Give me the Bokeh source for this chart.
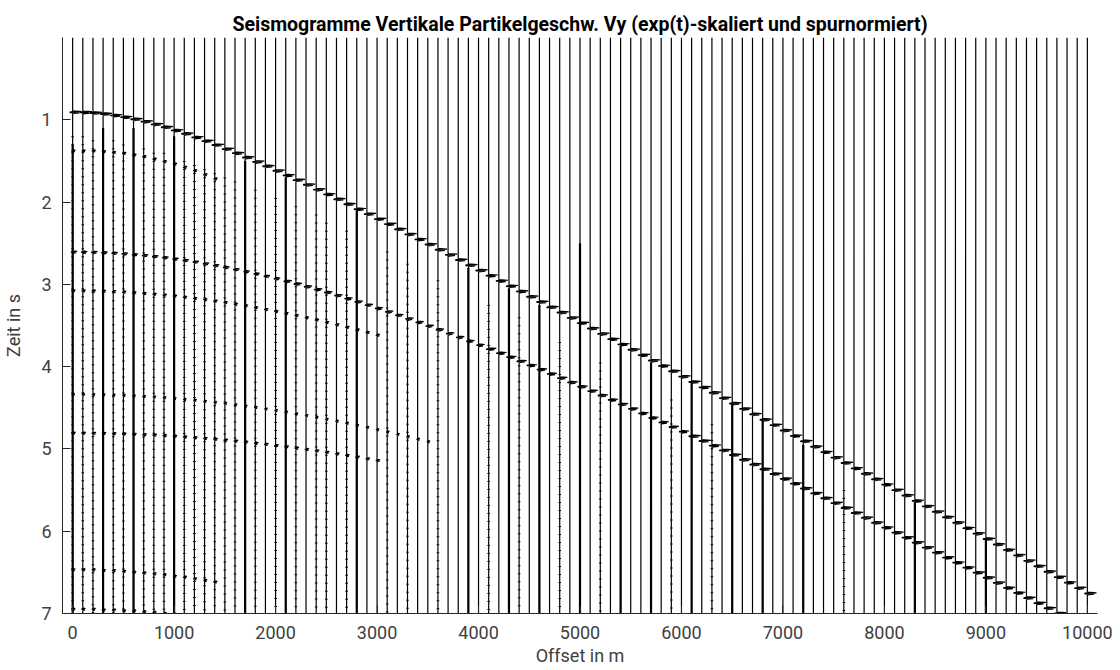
from bokeh.plotting import figure
from bokeh.models import Range1d, FixedTicker
from bokeh.embed import file_html
from bokeh.resources import INLINE

# ---------------- data ----------------
trace_offsets = [0, 100, 200, 300, 400, 500, 600, 700, 800, 900,
                 1000, 1100, 1200, 1300, 1400, 1500, 1600, 1700, 1800, 1900,
                 2000, 2100, 2200, 2300, 2400, 2500, 2600, 2700, 2800, 2900,
                 3000, 3100, 3200, 3300, 3400, 3500, 3600, 3700, 3800, 3900,
                 4000, 4100, 4200, 4300, 4400, 4500, 4600, 4700, 4800, 4900,
                 5000, 5100, 5200, 5300, 5400, 5500, 5600, 5700, 5800, 5900,
                 6000, 6100, 6200, 6300, 6400, 6500, 6600, 6700, 6800, 6900,
                 7000, 7100, 7200, 7300, 7400, 7500, 7600, 7700, 7800, 7900,
                 8000, 8100, 8200, 8300, 8400, 8500, 8600, 8700, 8800, 8900,
                 9000, 9100, 9200, 9300, 9400, 9500, 9600, 9700, 9800, 9900,
                 10000]

# first arrival (strong event), one time per trace [s]
e1_times = [0.900, 0.902, 0.910, 0.922, 0.939, 0.960, 0.985, 1.014, 1.047, 1.083,
            1.121, 1.162, 1.206, 1.251, 1.299, 1.348, 1.398, 1.450, 1.503, 1.557,
            1.612, 1.668, 1.725, 1.782, 1.840, 1.899, 1.958, 2.018, 2.078, 2.138,
            2.199, 2.260, 2.322, 2.384, 2.446, 2.508, 2.571, 2.633, 2.696, 2.760,
            2.823, 2.886, 2.950, 3.014, 3.078, 3.142, 3.206, 3.270, 3.334, 3.399,
            3.463, 3.528, 3.593, 3.658, 3.722, 3.787, 3.852, 3.918, 3.983, 4.048,
            4.113, 4.178, 4.244, 4.309, 4.374, 4.440, 4.505, 4.571, 4.637, 4.702,
            4.768, 4.834, 4.899, 4.965, 5.031, 5.097, 5.163, 5.229, 5.294, 5.360,
            5.426, 5.492, 5.558, 5.624, 5.690, 5.756, 5.822, 5.889, 5.955, 6.021,
            6.087, 6.153, 6.219, 6.285, 6.352, 6.418, 6.484, 6.550, 6.617, 6.683,
            6.749]
e1_amps = [90] * 101

# second event (starts at 2.6 s), traces 0 .. 9700 m
e2_times = [2.600, 2.601, 2.603, 2.608, 2.614, 2.621, 2.631, 2.642, 2.654, 2.669,
            2.685, 2.702, 2.721, 2.742, 2.764, 2.787, 2.812, 2.838, 2.865, 2.894,
            2.924, 2.955, 2.988, 3.021, 3.056, 3.091, 3.128, 3.166, 3.204, 3.244,
            3.284, 3.326, 3.368, 3.411, 3.454, 3.499, 3.544, 3.590, 3.636, 3.683,
            3.731, 3.779, 3.828, 3.877, 3.927, 3.977, 4.028, 4.080, 4.131, 4.184,
            4.236, 4.289, 4.343, 4.396, 4.450, 4.505, 4.560, 4.615, 4.670, 4.726,
            4.782, 4.838, 4.895, 4.952, 5.009, 5.066, 5.123, 5.181, 5.239, 5.297,
            5.356, 5.414, 5.473, 5.532, 5.591, 5.650, 5.710, 5.770, 5.829, 5.889,
            5.949, 6.010, 6.070, 6.130, 6.191, 6.252, 6.313, 6.374, 6.435, 6.496,
            6.558, 6.619, 6.681, 6.742, 6.804, 6.866, 6.928, 6.990]
e2_amps = [45] * 21 + [60] * 20 + [75] * 20 + [90] * 37

# weaker events at near offsets
e3_times = [1.37, 1.37, 1.37, 1.38, 1.39, 1.40, 1.42, 1.44, 1.47, 1.50,
            1.53, 1.57, 1.61, 1.66, 1.71]
e3_amps = [28] * 15
e4_times = [3.070, 3.071, 3.073, 3.076, 3.080, 3.086, 3.093, 3.102, 3.111, 3.122,
            3.134, 3.148, 3.163, 3.178, 3.195, 3.213, 3.233, 3.253, 3.275, 3.298,
            3.321, 3.345, 3.371, 3.397, 3.425, 3.454, 3.483, 3.514, 3.545, 3.577,
            3.610]
e4_amps = [28] * 31
e5_times = [4.330, 4.330, 4.332, 4.334, 4.338, 4.342, 4.348, 4.354, 4.362, 4.370,
            4.380, 4.390, 4.401, 4.414, 4.427, 4.441, 4.456, 4.472, 4.489, 4.507,
            4.526, 4.545, 4.566, 4.587, 4.609, 4.632, 4.655, 4.680, 4.706, 4.731,
            4.759, 4.786, 4.815, 4.844, 4.874, 4.904]
e5_amps = [22] * 36
e6_times = [4.800, 4.800, 4.802, 4.803, 4.806, 4.810, 4.814, 4.819, 4.824, 4.831,
            4.838, 4.846, 4.855, 4.864, 4.874, 4.885, 4.897, 4.909, 4.922, 4.936,
            4.951, 4.966, 4.982, 4.998, 5.015, 5.033, 5.052, 5.071, 5.091, 5.112,
            5.133]
e6_amps = [30] * 31
e7_times = [6.46, 6.46, 6.46, 6.47, 6.47, 6.48, 6.49, 6.50, 6.51, 6.52,
            6.54, 6.55, 6.57, 6.59, 6.61]
e7_amps = [26] * 15
e8_times = [6.94, 6.94, 6.94, 6.95, 6.95, 6.96, 6.96, 6.97, 6.98, 6.99, 7.00]
e8_amps = [26] * 11

# wavelet shape of one arrival (time offset in s, relative amplitude)
wavelet_dt = [-0.008, 0.0, 0.004, 0.012, 0.016, 0.026]
wavelet_amp = [0.0, 1.0, -0.25, -0.3, 0.75, 0.0]

# traces with strong high-frequency noise (offset, from time, to time)
noisy_offsets = [0, 300, 600, 1000, 1700, 2100, 2800, 3900, 4300, 4600,
                 5000, 5400, 5700, 6100, 6500, 6800, 7200, 8300, 9000]
noisy_start = [1.30, 1.10, 1.10, 1.20, 1.50, 1.70, 2.10, 2.80, 3.05, 3.25,
               2.50, 3.75, 3.95, 4.20, 4.45, 4.65, 4.95, 5.65, 6.10]
noisy_end = [7.0] * 19

# traces with scattered small noise spikes (offset, from time, to time)
speckle_offsets = [0, 100, 200, 400, 500, 700, 800, 900, 1100, 1200,
                   1300, 1400, 1500, 1600, 1800, 2000, 2200, 2400, 2500, 2700,
                   3100, 3300, 3600, 4100, 4400, 4800, 5200, 5900, 6300, 7600]
speckle_start = [1.20, 1.20, 1.25, 1.25, 1.30, 1.35, 1.40, 1.40, 1.50, 1.55,
                 1.60, 1.65, 1.70, 1.75, 1.85, 1.95, 2.05, 2.15, 2.25, 2.35,
                 2.60, 2.75, 2.95, 3.25, 3.40, 3.70, 3.95, 4.40, 4.70, 5.50]
speckle_end = [7.0] * 30

x_ticks = [0, 1000, 2000, 3000, 4000, 5000, 6000, 7000, 8000, 9000, 10000]
y_ticks = [1, 2, 3, 4, 5, 6, 7]

# ---------------- build wiggle traces ----------------
events = [(e1_times, e1_amps), (e2_times, e2_amps), (e3_times, e3_amps),
          (e4_times, e4_amps), (e5_times, e5_amps), (e6_times, e6_amps),
          (e7_times, e7_amps), (e8_times, e8_amps)]

xs, ys = [], []
for i, x0 in enumerate(trace_offsets):
    arr = []
    for times, amps in events:
        if i < len(times):
            arr.append((times[i], amps[i]))
    arr.sort()
    px, py = [x0], [0.0]
    for t, a in arr:
        for dt, w in zip(wavelet_dt, wavelet_amp):
            px.append(x0 + a * w)
            py.append(t + dt)
    px.append(x0)
    py.append(7.0)
    xs.append(px)
    ys.append(py)

# ---------------- figure ----------------
p = figure(width=1120, height=670,
           x_range=Range1d(-100, 10100), y_range=Range1d(7, 0),
           output_backend="svg", toolbar_location=None,
           min_border_left=58, min_border_right=23,
           min_border_top=37, min_border_bottom=57)

p.multi_line(xs, ys, line_color="black", line_width=1.2)
p.segment(x0=noisy_offsets, y0=noisy_start, x1=noisy_offsets, y1=noisy_end,
          line_color="black", line_width=2.2)
p.segment(x0=speckle_offsets, y0=speckle_start, x1=speckle_offsets, y1=speckle_end,
          line_color="black", line_width=2.6, line_dash="1 7")

p.title.text = "Seismogramme Vertikale Partikelgeschw. Vy (exp(t)-skaliert und spurnormiert)"
p.title.align = "center"
p.title.vertical_align = "top"
p.title.text_font = "Roboto"
p.title.text_font_style = "bold"
p.title.text_font_size = "19.5px"
p.title.text_color = "black"
p.title.standoff = 0

p.xgrid.visible = False
p.ygrid.visible = False
p.outline_line_color = None
p.background_fill_color = "white"
p.border_fill_color = "white"

for ax in (p.xaxis[0], p.yaxis[0]):
    ax.axis_line_color = "#262626"
    ax.axis_line_width = 1
    ax.major_tick_line_color = "#262626"
    ax.major_tick_in = 8
    ax.major_tick_out = 0
    ax.minor_tick_line_color = None
    ax.major_label_text_font = "Roboto"
    ax.major_label_text_font_size = "18px"
    ax.major_label_text_color = "#404040"
    ax.axis_label_text_font = "Roboto"
    ax.axis_label_text_font_size = "18px"
    ax.axis_label_text_font_style = "normal"
    ax.axis_label_text_color = "#404040"

p.xaxis[0].ticker = FixedTicker(ticks=x_ticks)
p.yaxis[0].ticker = FixedTicker(ticks=y_ticks)
p.xaxis[0].axis_label = "Offset in m"
p.yaxis[0].axis_label = "Zeit in s"
p.xaxis[0].major_label_standoff = 12
p.yaxis[0].major_label_standoff = 11
p.xaxis[0].axis_label_standoff = 3
p.yaxis[0].axis_label_standoff = 14

open("out.html", "w").write(file_html(p, INLINE))
